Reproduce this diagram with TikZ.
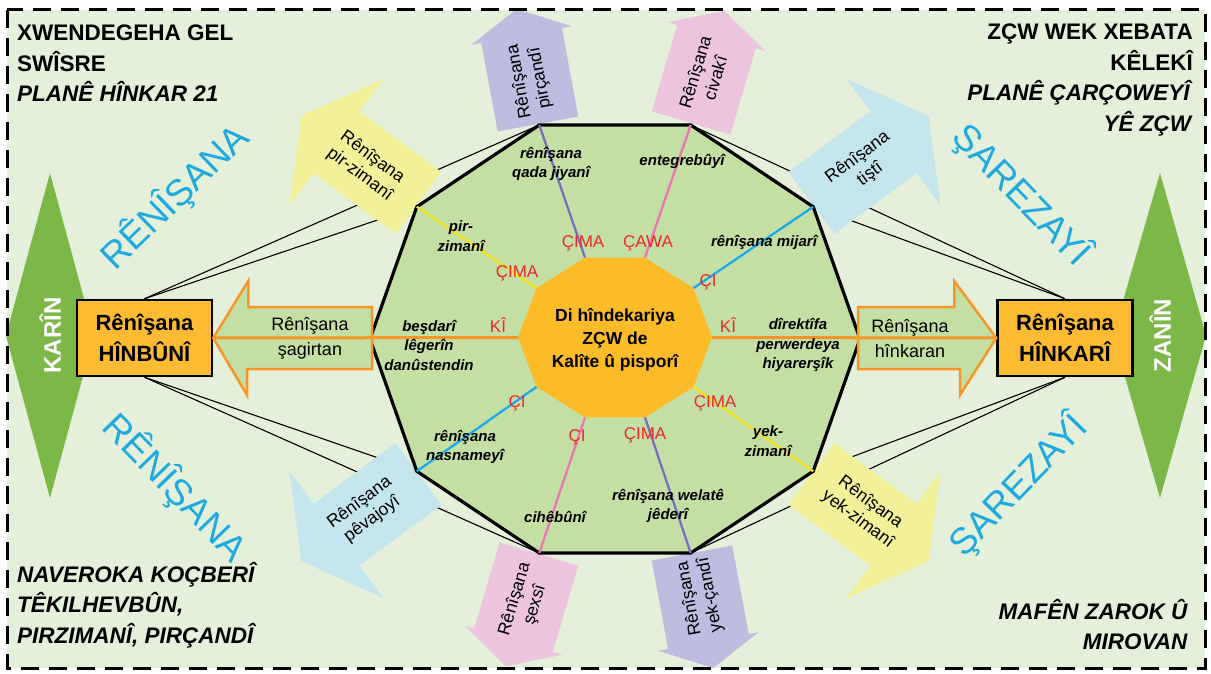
\documentclass[tikz,border=0pt]{standalone}
\usepackage{fontspec}
\setmainfont{Liberation Sans}

\definecolor{pagebg}{RGB}{229,240,219}
\definecolor{decafill}{RGB}{196,223,164}
\definecolor{corefill}{RGB}{252,187,40}
\definecolor{boxfill}{RGB}{252,187,50}
\definecolor{hollowline}{RGB}{247,150,40}
\definecolor{leafgreen}{RGB}{124,183,72}
\definecolor{paleyellow}{RGB}{242,240,152}
\definecolor{palepurple}{RGB}{190,189,224}
\definecolor{palepink}{RGB}{236,196,222}
\definecolor{paleblue}{RGB}{196,229,237}
\definecolor{spokeyellow}{RGB}{240,228,30}
\definecolor{spokepurple}{RGB}{120,110,190}
\definecolor{spokepink}{RGB}{232,120,175}
\definecolor{spokeblue}{RGB}{30,170,230}
\definecolor{askred}{RGB}{236,40,45}
\definecolor{skytone}{RGB}{30,170,225}

% block arrow: base x, base y, angle, colour, shaft length, shaft half width, head half width, head length
\newcommand\blockarrow[8]{%
  \begin{scope}[shift={(#1,#2)},rotate=#3]
    \fill[#4] (0,-#6) -- (#5,-#6) -- (#5,-#7) -- ({#5+#8},0) -- (#5,#7) -- (#5,#6) -- (0,#6) -- cycle;
  \end{scope}}

\begin{document}
\begin{tikzpicture}[x=1pt,y=-1pt,
  cornertext/.style={font=\fontsize{22.5}{30.5}\selectfont\bfseries, inner sep=0pt},
  hubbox/.style={draw=black, line width=2.5pt, fill=boxfill, minimum width=135pt, minimum height=76pt,
                 align=center, inner sep=0pt, font=\fontsize{22}{31}\selectfont\bfseries},
  sidetag/.style={text=white, font=\fontsize{24}{26}\selectfont\bfseries, inner sep=0pt},
  bigword/.style={text=skytone, font=\fontsize{37}{40}\selectfont, inner sep=0pt},
  arrowtext/.style={font=\fontsize{17.5}{21}\selectfont, align=center, inner sep=0pt},
  hollowtext/.style={font=\fontsize{18}{25}\selectfont, align=center, inner sep=0pt},
  facet/.style={font=\fontsize{15}{19.5}\selectfont\bfseries\itshape, align=center, inner sep=0pt},
  question/.style={font=\fontsize{17}{20}\selectfont, text=askred, inner sep=0pt},
  corelabel/.style={font=\fontsize{17.5}{23}\selectfont\bfseries, align=center, inner sep=0pt},
  spoke/.style={line width=2.3pt},
  guide/.style={line width=1.1pt},
  hollow/.style={draw=hollowline, fill=decafill, line width=2.5pt, line join=miter},
  axisline/.style={draw=hollowline, line width=3pt},
]
\useasboundingbox (0,0) rectangle (1211,674);
\fill[white] (0,0) rectangle (1211,674);
\fill[pagebg] (7,10) rectangle (1205,668);

% vertices of the outer and inner decagons
\foreach \k in {0,...,9} {
  \pgfmathsetmacro\a{36*\k}
  \coordinate (o\k) at ({615+245*cos(\a)},{339-225*sin(\a)});
  \coordinate (i\k) at ({615+97*cos(\a)},{337.5-84*sin(\a)});
}

% side diamonds
\fill[leafgreen] (50,173) -- (94,335.5) -- (50,498) -- (6,335.5) -- cycle;
\fill[leafgreen] (1160,173) -- (1206,335.5) -- (1160,498) -- (1113,335.5) -- cycle;
\node[sidetag, rotate=90] (karin) at (50,335.5) {KARÎN};
\node[sidetag, rotate=90] (zanin) at (1160,335.5) {ZANÎN};

% learner and teacher boxes
\node[hubbox] (lbox) at (144.5,338) {Rênîşana\\HÎNBÛNÎ};
\node[hubbox] (rbox) at (1065,338) {Rênîşana\\HÎNKARÎ};

% guide lines from the boxes to the decagon
\draw[guide] (lbox.north) -- (o4);
\draw[guide] (lbox.north) -- (o3);
\draw[guide] (lbox.south) -- (o6);
\draw[guide] (lbox.south) -- (o7);
\draw[guide] (rbox.north) -- (o1);
\draw[guide] (rbox.north) -- (o2);
\draw[guide] (rbox.south) -- (o9);
\draw[guide] (rbox.south) -- (o8);

% large diagonal words
\node[bigword, rotate=44] (wtl) at (175,197) {RÊNÎŞANA};
\node[bigword, rotate=-46] (wbl) at (175,488) {RÊNÎŞANA};
\node[bigword, rotate=-46] (wtr) at (1022,195) {ŞAREZAYÎ};
\node[bigword, rotate=46] (wbr) at (1018,485) {ŞAREZAYÎ};

% block arrows round the decagon
\blockarrow{418.5}{203}{143.4}{paleyellow}{102}{38.5}{79}{44}
\blockarrow{538}{124}{100.5}{palepurple}{90}{41}{51}{27}
\blockarrow{691}{123}{73.5}{palepink}{90}{41}{51}{27}
\blockarrow{811.5}{203}{36.6}{paleblue}{102}{38.5}{79}{44}
\blockarrow{811.5}{474}{-36.6}{paleyellow}{102}{38.5}{79}{44}
\blockarrow{692}{553}{-79.5}{palepurple}{90}{41}{51}{27}
\blockarrow{539}{554}{-106.5}{palepink}{90}{41}{51}{27}
\blockarrow{418.5}{474}{-143.4}{paleblue}{102}{38.5}{79}{44}

\node[arrowtext, rotate=-36.6] (ta) at (366,166) {Rênîşana\\pir-zimanî};
\node[arrowtext, rotate=100.5] (tb) at (530,80) {Rênîşana\\pirçandî};
\node[arrowtext, rotate=73.5] (tc) at (705,75) {Rênîşana\\civakî};
\node[arrowtext, rotate=36.6] (td) at (864,166) {Rênîşana\\tiştî};
\node[arrowtext, rotate=-36.6] (te) at (864,511) {Rênîşana\\yek-zimanî};
\node[arrowtext, rotate=100.5] (tf) at (700,597) {Rênîşana\\yek-çandî};
\node[arrowtext, rotate=73.5] (tg) at (525,602) {Rênîşana\\şexsî};
\node[arrowtext, rotate=36.6] (th) at (366,511) {Rênîşana\\pêvajoyî};

% outer decagon
\draw[fill=decafill, line width=3.2pt, line join=miter]
  (o0) -- (o1) -- (o2) -- (o3) -- (o4) -- (o5) -- (o6) -- (o7) -- (o8) -- (o9) -- cycle;

% coloured spokes
\draw[spoke, spokeblue] (i1) -- (o1);
\draw[spoke, spokepink] (i2) -- (o2);
\draw[spoke, spokepurple] (i3) -- (o3);
\draw[spoke, spokeyellow] (i4) -- (o4);
\draw[spoke, spokeblue] (i6) -- (o6);
\draw[spoke, spokepink] (i7) -- (o7);
\draw[spoke, spokepurple] (i8) -- (o8);
\draw[spoke, spokeyellow] (i9) -- (o9);

% inner decagon
\fill[corefill] (i0) -- (i1) -- (i2) -- (i3) -- (i4) -- (i5) -- (i6) -- (i7) -- (i8) -- (i9) -- cycle;

% hollow arrows towards the boxes
\draw[hollow] (lbox.east) -- ++(35,-57) -- ++(0,26) -- (372,307) -- (372,369) -- (247,369) -- ++(0,26) -- cycle;
\draw[hollow] (rbox.west) -- ++(-42,-57) -- ++(0,26) -- (858,307) -- (858,369) -- (960,369) -- ++(0,26) -- cycle;
\draw[axisline] (i5) -- (lbox.east);
\draw[axisline] (i0) -- (rbox.west);
\node[hollowtext] (ls) at (310,338) {Rênîşana\\şagirtan};
\node[hollowtext] (rs) at (910,339) {Rênîşana\\hînkaran};

% centre
\node[corelabel] (core) at (615,340) {Di hîndekariya\\ZÇW de\\Kalîte û pisporî};

% facets inside the decagon
\node[facet] (f1) at (551,164) {rênîşana\\qada jiyanî};
\node[facet] (f2) at (682,161) {entegrebûyî};
\node[facet] (f3) at (461,236) {pir-\\zimanî};
\node[facet] (f4) at (764,242) {rênîşana mijarî};
\node[facet] (f5) at (429,345) {beşdarî\\lêgerîn\\danûstendin};
\node[facet] (f6) at (798,345) {dîrektîfa\\perwerdeya\\hiyarerşîk};
\node[facet] (f7) at (465,447) {rênîşana\\nasnameyî};
\node[facet] (f8) at (768,441) {yek-\\zimanî};
\node[facet] (f9) at (555,517) {cihêbûnî};
\node[facet] (f10) at (668,506) {rênîşana welatê\\jêderî};

% question words
\node[question] (q1) at (517,273) {ÇIMA};
\node[question] (q2) at (583,243) {ÇIMA};
\node[question] (q3) at (648,243) {ÇAWA};
\node[question] (q4) at (708,282) {ÇI};
\node[question] (q5) at (498,325) {KÎ};
\node[question] (q6) at (728,325) {KÎ};
\node[question] (q7) at (517,403) {ÇI};
\node[question] (q8) at (715,403) {ÇIMA};
\node[question] (q9) at (577,437) {ÇI};
\node[question] (q10) at (645,435) {ÇIMA};

% corner captions
\node[cornertext, anchor=north west, align=left] (ctl) at (17,25)
  {XWENDEGEHA GEL\\SWÎSRE\\\textit{PLANÊ HÎNKAR 21}};
\node[cornertext, anchor=north east, align=right] (ctr) at (1193,24)
  {ZÇW WEK XEBATA\\KÊLEKÎ\\\textit{PLANÊ ÇARÇOWEYÎ}\\\textit{YÊ ZÇW}};
\node[cornertext, anchor=north west, align=left] (cbl) at (17,562)
  {\textit{NAVEROKA KOÇBERÎ}\\\textit{TÊKILHEVBÛN,}\\\textit{PIRZIMANÎ, PIRÇANDÎ}};
\node[cornertext, anchor=north east, align=right] (cbr) at (1188,599)
  {\textit{MAFÊN ZAROK Û}\\\textit{MIROVAN}};

% dashed frame
\draw[line width=3pt, dash pattern=on 18pt off 10pt] (7,10) rectangle (1205,668);
\end{tikzpicture}
\end{document}
